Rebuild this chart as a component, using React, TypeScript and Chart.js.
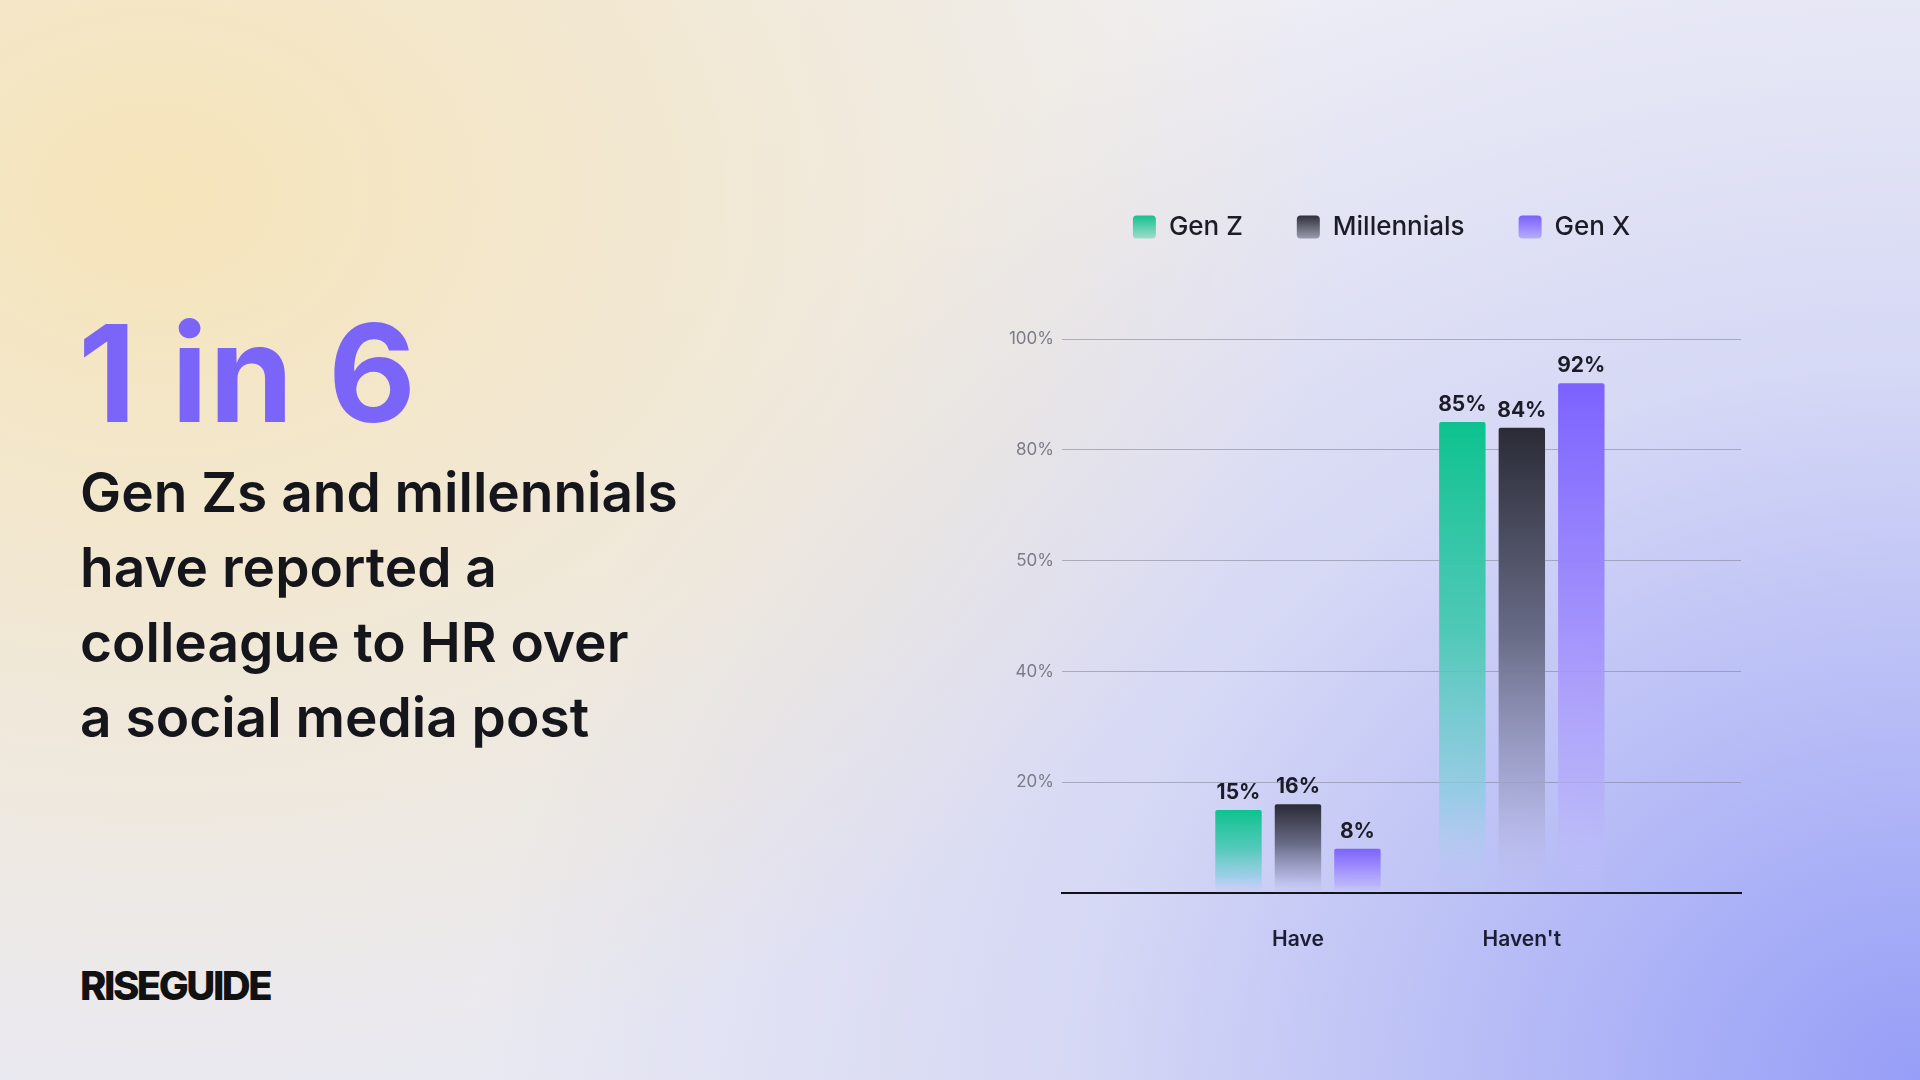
import React, { useEffect, useRef } from 'react';
import { Chart, registerables } from 'chart.js';

Chart.register(...registerables);

// ---- data ----
const categories = ['', 'Have', "Haven't", ''];
const seriesNames = ['Gen Z', 'Millennials', 'Gen X'];
const genZValues = [null, 15, 85, null];
const millennialsValues = [null, 16, 84, null];
const genXValues = [null, 8, 92, null];
const yTickValues = [0, 20, 40, 60, 80, 100];
const yTickLabels = ['', '20%', '40%', '50%', '80%', '100%'];

// ---- styles ----
const FONT = 'Inter, "Noto Sans", sans-serif';
const gradientStops: Array<Array<[number, string]>> = [
  [
    [0, 'rgba(13,194,143,1)'],
    [0.45, 'rgba(70,200,178,0.92)'],
    [0.8, 'rgba(140,205,225,0.75)'],
    [1, 'rgba(190,205,245,0.05)'],
  ],
  [
    [0, 'rgba(42,43,54,1)'],
    [0.45, 'rgba(105,108,135,1)'],
    [0.8, 'rgba(165,168,210,0.8)'],
    [1, 'rgba(195,195,240,0.05)'],
  ],
  [
    [0, 'rgba(124,98,255,1)'],
    [0.45, 'rgba(158,140,252,0.95)'],
    [0.8, 'rgba(180,172,250,0.75)'],
    [1, 'rgba(195,192,250,0.05)'],
  ],
];
const legendColors = ['#22c598', '#3d3e4b', '#8b76fb'];
const legendGradients: Array<[string, string]> = [
  ['#14c191', '#9fdcca'],
  ['#2f3039', '#9a9cb0'],
  ['#7a60ff', '#b7acfb'],
];

const makeBg = (idx: number) => (ctx: any) => {
  const stops = gradientStops[idx];
  const chart = ctx.chart;
  const v = ctx.raw;
  if (ctx.type !== 'data' || v == null || !chart.chartArea) return legendColors[idx];
  const yScale = chart.scales.y;
  const top = yScale.getPixelForValue(v);
  const bottom = yScale.getPixelForValue(0);
  const g = chart.ctx.createLinearGradient(0, top, 0, bottom);
  stops.forEach(([o, c]) => g.addColorStop(o, c));
  return g;
};

const LEGEND_BLOCK = 179;
const LEGEND_LEFT = 39;
const Y_AXIS_WIDTH = 79;
const X_AXIS_HEIGHT = 80;
const LEGEND_FONT = 26;
const LEGEND_BOX = 23;
// category axis window (fractional) so the two groups sit where the reference puts them
const X_START = -0.054;
const X_RANGE = 3.033;

const legendSpacing = {
  id: 'legendSpacing',
  beforeInit(chart: any) {
    const legend = chart.legend;
    if (!legend) return;
    const orig = legend.fit;
    legend.fit = function () {
      orig.call(this);
      this.height = LEGEND_BLOCK;
    };
  },
};

const legendGradient = {
  id: 'legendGradient',
  beforeDraw(chart: any) {
    const legend = chart.legend;
    if (!legend || !legend.legendItems || !legend.legendHitBoxes) return;
    legend.left = LEGEND_LEFT;
    const itemH = Math.max(LEGEND_FONT, LEGEND_BOX);
    legend.legendItems.forEach((item: any, i: number) => {
      const hb = legend.legendHitBoxes[i];
      if (!hb) return;
      const y0 = hb.top + (itemH - LEGEND_BOX) / 2;
      const g = chart.ctx.createLinearGradient(0, y0, 0, y0 + LEGEND_BOX);
      const [a, b] = legendGradients[i % legendGradients.length];
      g.addColorStop(0, a);
      g.addColorStop(1, b);
      item.fillStyle = g;
      item.strokeStyle = 'rgba(0,0,0,0)';
      item.lineWidth = 0;
    });
  },
};

const valueLabels = {
  id: 'valueLabels',
  afterDatasetsDraw(chart: any) {
    const ctx = chart.ctx;
    ctx.save();
    ctx.font = `700 21px ${FONT}`;
    ctx.fillStyle = '#1c1c28';
    ctx.textAlign = 'center';
    ctx.textBaseline = 'alphabetic';
    chart.data.datasets.forEach((ds: any, i: number) => {
      const meta = chart.getDatasetMeta(i);
      meta.data.forEach((bar: any, j: number) => {
        const v = ds.data[j];
        if (v == null) return;
        ctx.fillText(`${v}%`, bar.x, bar.y - 11);
      });
    });
    ctx.restore();
  },
};

function BarChart() {
  const ref = useRef<HTMLCanvasElement | null>(null);
  useEffect(() => {
    if (!ref.current) return;
    const seriesValues = [genZValues, millennialsValues, genXValues];
    const chart = new Chart(ref.current, {
      type: 'bar',
      data: {
        labels: categories,
        datasets: seriesNames.map((name, i) => ({
          label: name,
          data: seriesValues[i],
          backgroundColor: makeBg(i),
          borderWidth: 0,
          borderRadius: 2,
          borderSkipped: 'bottom',
          categoryPercentage: 0.797,
          barPercentage: 0.78,
        })),
      },
      options: {
        animation: false,
        responsive: false,
        maintainAspectRatio: false,
        layout: { padding: { top: 0, right: 22, bottom: 0, left: 0 } },
        plugins: {
          tooltip: { enabled: false },
          legend: {
            display: true,
            position: 'top',
            align: 'center',
            labels: {
              boxWidth: LEGEND_BOX,
              boxHeight: LEGEND_BOX,
              padding: 54,
              color: '#1c1c28',
              useBorderRadius: true,
              borderRadius: 4,
              font: { family: FONT, size: LEGEND_FONT, weight: '500' },
            },
          },
        },
        scales: {
          x: {
            offset: false,
            grid: { display: false, drawTicks: false },
            border: { display: true, color: '#111118', width: 2 },
            ticks: {
              color: '#1c1f33',
              font: { family: FONT, size: 21, weight: '600' },
              padding: 34,
              autoSkip: false,
              maxRotation: 0,
            },
            afterBuildTicks(scale: any) {
              scale._startValue = X_START;
              scale._valueRange = X_RANGE;
            },
            afterFit(scale: any) {
              scale.height = X_AXIS_HEIGHT;
              scale.paddingLeft = 0;
              scale.paddingRight = 0;
            },
          },
          y: {
            min: 0,
            max: 100,
            afterBuildTicks(scale: any) {
              scale.ticks = yTickValues.map((v) => ({ value: v }));
            },
            ticks: {
              callback: (v: any) => {
                const k = yTickValues.indexOf(Number(v));
                return k >= 0 ? yTickLabels[k] : '';
              },
              color: '#7b7b88',
              font: { family: FONT, size: 17 },
              padding: 8,
            },
            grid: {
              color: (c: any) => (c.tick && c.tick.value === 0 ? 'rgba(0,0,0,0)' : 'rgba(120,120,140,0.5)'),
              lineWidth: 1,
              drawTicks: false,
            },
            border: { display: false },
            afterFit(scale: any) {
              scale.width = Y_AXIS_WIDTH;
            },
          },
        },
      },
      plugins: [legendSpacing, legendGradient, valueLabels],
    } as any);
    return () => chart.destroy();
  }, []);
  return (
    <canvas
      ref={ref}
      width={780}
      height={813}
      style={{ position: 'absolute', left: 983, top: 160, width: 780, height: 813 }}
    />
  );
}

export default function App() {
  return (
    <div
      style={{
        position: 'fixed',
        left: 0,
        top: 0,
        width: 1920,
        height: 1080,
        overflow: 'hidden',
        fontFamily: FONT,
        background: [
          'radial-gradient(ellipse 62% 85% at 8% 18%, rgba(246,228,186,1) 0%, rgba(244,230,196,0.75) 40%, rgba(240,236,235,0) 100%)',
          'radial-gradient(ellipse 75% 115% at 100% 100%, rgba(150,158,247,1) 0%, rgba(172,178,247,0.85) 28%, rgba(200,204,246,0.6) 58%, rgba(225,226,245,0) 100%)',
          'linear-gradient(180deg, #eeeef5 0%, #e9e9f2 100%)',
        ].join(', '),
      }}
    >
      <div
        style={{
          position: 'absolute',
          left: 78,
          top: 306,
          fontSize: 135,
          fontWeight: 700,
          lineHeight: 1,
          color: '#7b64f8',
          letterSpacing: 1.5,
          whiteSpace: 'nowrap',
        }}
      >
        1 in 6
      </div>
      <div
        style={{
          position: 'absolute',
          left: 80,
          top: 455,
          fontSize: 55,
          fontWeight: 600,
          lineHeight: '75px',
          color: '#15151c',
          letterSpacing: 0,
          whiteSpace: 'nowrap',
        }}
      >
        <div>Gen Zs and millennials</div>
        <div>have reported a</div>
        <div>colleague to HR over</div>
        <div>a social media post</div>
      </div>
      <div
        style={{
          position: 'absolute',
          left: 80,
          top: 962,
          fontSize: 40,
          fontWeight: 800,
          lineHeight: '48px',
          color: '#111',
          letterSpacing: -2.5,
          whiteSpace: 'nowrap',
        }}
      >
        RISEGUIDE
      </div>
      <BarChart />
    </div>
  );
}
